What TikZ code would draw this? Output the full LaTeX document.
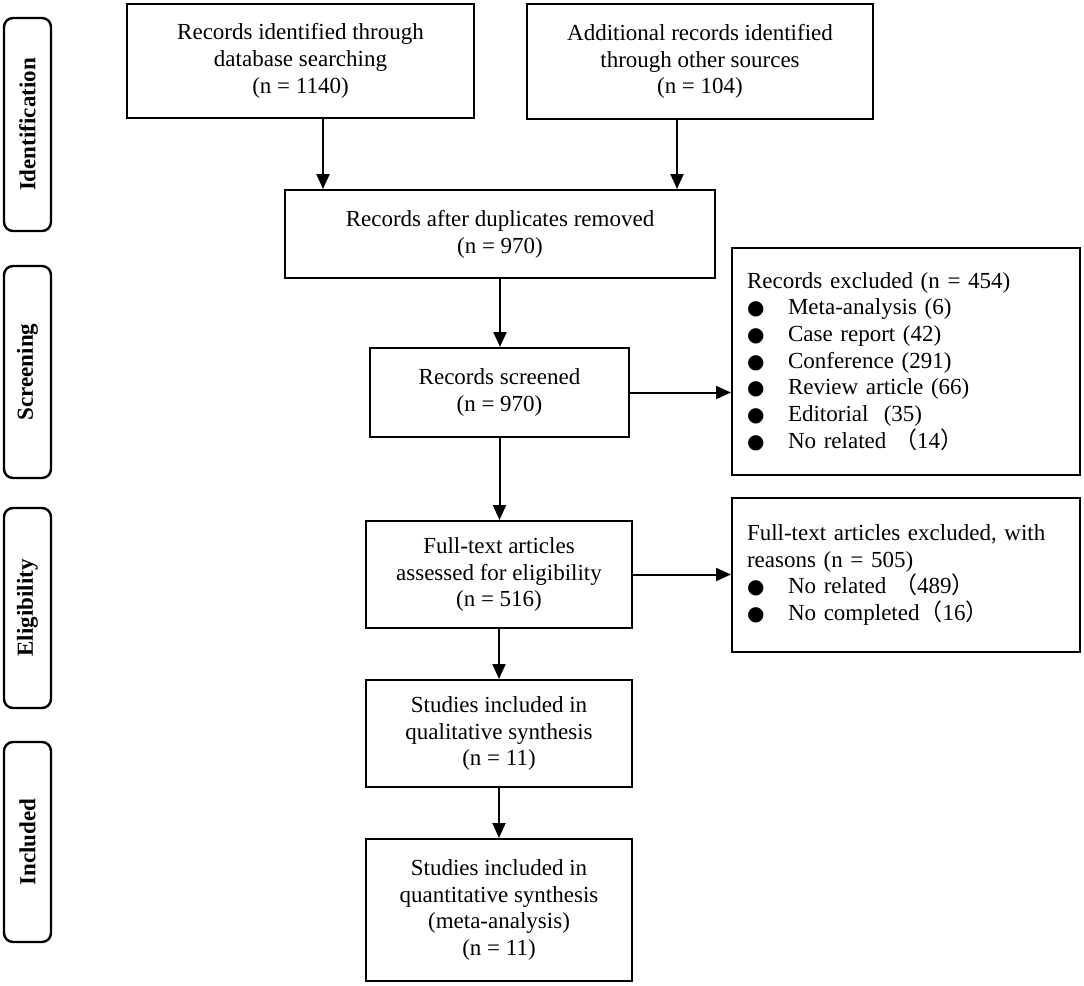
\documentclass[tikz,border=0pt]{standalone}
\usepackage{fontspec}
\setmainfont{Liberation Serif}
\newfontfamily\cjk{Noto Sans CJK SC}
\newfontfamily\symfont{DejaVu Sans}
\usetikzlibrary{arrows.meta,calc}
\newcommand{\bul}{\makebox[41pt][l]{\symfont\fontsize{20}{20}\selectfont ●}}
\newcommand{\lp}{{\cjk （}}
\newcommand{\rp}{{\cjk ）}}
\begin{document}
\begin{tikzpicture}[x=1pt,y=1pt,
  every node/.style={font=\fontsize{23}{26.7}\selectfont},
  box/.style={draw, line width=2pt, rectangle, inner sep=0pt, align=center},
  exbox/.style={draw, line width=2pt, rectangle, inner sep=0pt, align=left},
  phase/.style={draw, line width=2.4pt, rounded corners=9pt, rotate=90, inner sep=0pt,
     minimum height=47pt, font=\fontsize{23}{26.7}\selectfont\bfseries},
  arr/.style={line width=2pt, -{Triangle[length=15pt,width=13pt]}}]
\useasboundingbox (0,0) rectangle (1084,-985);
% phase labels
\node[phase, minimum width=213pt] (id) at (27.5,-124.5) {Identification};
\node[phase, minimum width=212pt] (scr) at (27.5,-372) {Screening};
\node[phase, minimum width=200pt] (elig) at (27.5,-608) {Eligibility};
\node[phase, minimum width=200pt] (incl) at (27.5,-842) {Included};
% boxes
\node[box, minimum width=347pt, minimum height=114pt] (b1) at (300.5,-61)
  {Records identified through\\database searching\\(n = 1140)};
\node[box, minimum width=346pt, minimum height=115pt] (b2) at (700,-61.5)
  {Additional records identified\\through other sources\\(n = 104)};
\node[box, minimum width=430pt, minimum height=88pt] (b3) at (500,-234)
  {Records after duplicates removed\\(n = 970)};
\node[box, minimum width=259pt, minimum height=89pt] (b4) at (499.5,-392.5)
  {Records screened\\(n = 970)};
\node[exbox, minimum width=348pt, minimum height=227pt, text width=318pt] (ex1) at (906,-361.5)
  {Records excluded (n = 454)\\
   \bul Meta-analysis (6)\\
   \bul Case report (42)\\
   \bul Conference (291)\\
   \bul Review article (66)\\
   \bul Editorial~ (35)\\
   \bul No related \lp 14\rp};
\node[box, minimum width=266pt, minimum height=107pt] (b5) at (499,-574.5)
  {Full-text articles\\assessed for eligibility\\(n = 516)};
\node[exbox, minimum width=348pt, minimum height=154pt, text width=318pt] (ex2) at (906,-575)
  {Full-text articles excluded, with\\reasons (n = 505)\\
   \bul No related \lp 489\rp\\
   \bul No completed\lp 16\rp\\[6pt]};
\node[box, minimum width=266pt, minimum height=107pt] (b6) at (499,-733.5)
  {Studies included in\\qualitative synthesis\\(n = 11)};
\node[box, minimum width=266pt, minimum height=142pt] (b7) at (499,-910)
  {Studies included in\\quantitative synthesis\\(meta-analysis)\\(n = 11)};
% connectors
\coordinate (xa) at (323,0);
\coordinate (xb) at (677,0);
\draw[arr] (b1.south -| xa) -- (b3.north -| xa);
\draw[arr] (b2.south -| xb) -- (b3.north -| xb);
\draw[arr] (b3.south) -- (b3.south |- b4.north);
\draw[arr] (b4.east) -- (b4.east -| ex1.west);
\draw[arr] (b4.south) -- (b4.south |- b5.north);
\draw[arr] (b5.east) -- (b5.east -| ex2.west);
\draw[arr] (b5.south) -- (b6.north);
\draw[arr] (b6.south) -- (b7.north);
\end{tikzpicture}
\end{document}
